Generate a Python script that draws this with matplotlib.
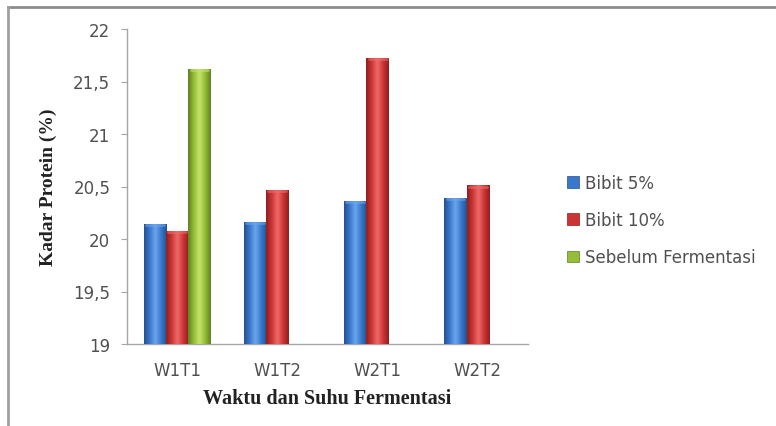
import matplotlib
matplotlib.use("Agg")
import matplotlib.pyplot as plt
import numpy as np
from matplotlib.colors import LinearSegmentedColormap
from matplotlib.ticker import FuncFormatter, MultipleLocator
from matplotlib.lines import Line2D
from matplotlib.patches import Patch

categories = ["W1T1", "W1T2", "W2T1", "W2T2"]
bibit5 = [20.14, 20.16, 20.36, 20.39]
bibit10 = [20.08, 20.47, 21.72, 20.51]
sebelum = [21.62, None, None, None]
series_names = ["Bibit 5%", "Bibit 10%", "Sebelum Fermentasi"]

colors = {
    "Bibit 5%": ("#23508f", "#6aa6ec", "#3a78cc"),
    "Bibit 10%": ("#8e1e1e", "#ee6a6a", "#cc3434"),
    "Sebelum Fermentasi": ("#5f7f1e", "#c4e46a", "#94bd38"),
}

fig = plt.figure(figsize=(7.76, 4.27), dpi=100)
ax = fig.add_axes([127/776, 82/427, (528-127)/776, (345-30)/427])

x = np.arange(len(categories))
width = 0.223
offsets = [-width, 0, width]
all_series = [bibit5, bibit10, sebelum]

for name, vals, off in zip(series_names, all_series, offsets):
    dark, light, mid = colors[name]
    cmap = LinearSegmentedColormap.from_list(name, [dark, mid, light, mid, dark], N=256)
    xs = [xi + off for xi, v in zip(x, vals) if v is not None]
    hs = [v - 19 for v in vals if v is not None]
    bars = ax.bar(xs, hs, width=width, bottom=19, color=mid, edgecolor="none", zorder=2)
    grad = np.linspace(0, 1, 256).reshape(1, -1)
    for b in bars:
        x0, y0 = b.get_x(), b.get_y()
        w, h = b.get_width(), b.get_height()
        im = ax.imshow(grad, cmap=cmap, extent=(x0, x0 + w, y0, y0 + h),
                       aspect="auto", zorder=3, interpolation="bicubic")
        im.set_clip_path(b)
        ax.plot([x0 + w*0.1, x0 + w*0.9], [y0 + h - 0.01, y0 + h - 0.01],
                color=light, lw=2.0, alpha=0.6, zorder=4, solid_capstyle="round")

ax.set_xlim(-0.5, 3.5)
ax.set_ylim(19, 22)
ax.yaxis.set_major_locator(MultipleLocator(0.5))
ax.yaxis.set_major_formatter(FuncFormatter(lambda v, p: (f"{v:g}").replace(".", ",")))
ax.set_xticks(x)
ax.set_xticklabels(categories)

for s in ["top", "right"]:
    ax.spines[s].set_visible(False)
for s in ["left", "bottom"]:
    ax.spines[s].set_color("#a6a6a6")
    ax.spines[s].set_linewidth(1.0)
ax.tick_params(axis="y", colors="#a6a6a6", labelcolor="#505050", labelsize=12, length=4, pad=8)
ax.tick_params(axis="x", length=0, labelcolor="#505050", labelsize=12, pad=12)
for lbl in ax.get_xticklabels() + ax.get_yticklabels():
    lbl.set_family("DejaVu Sans")

ax.set_xlabel("Waktu dan Suhu Fermentasi", family="Liberation Serif", fontweight="bold",
              fontsize=14.5, color="#222222", labelpad=7)
ax.set_ylabel("Kadar Protein (%)", family="Liberation Serif", fontweight="bold",
              fontsize=14, color="#222222", labelpad=12)

handles = [Patch(facecolor=colors[n][2], edgecolor=colors[n][0], linewidth=0.5) for n in series_names]
leg = fig.legend(handles, series_names, loc="center left", bbox_to_anchor=(552/776, 1 - 221/427),
                 frameon=False, prop={"family": "DejaVu Sans", "size": 12},
                 handlelength=0.7, handleheight=0.7, handletextpad=0.4, labelspacing=1.15)
for t in leg.get_texts():
    t.set_color("#505050")

fig.add_artist(Line2D([8/776, 1.0], [1 - 8/427, 1 - 8/427], transform=fig.transFigure,
                      color="#8c8c8c", lw=2))
fig.add_artist(Line2D([8/776, 8/776], [0, 1 - 8/427], transform=fig.transFigure,
                      color="#a0a0a0", lw=2))

fig.savefig("out.png", dpi=100)
